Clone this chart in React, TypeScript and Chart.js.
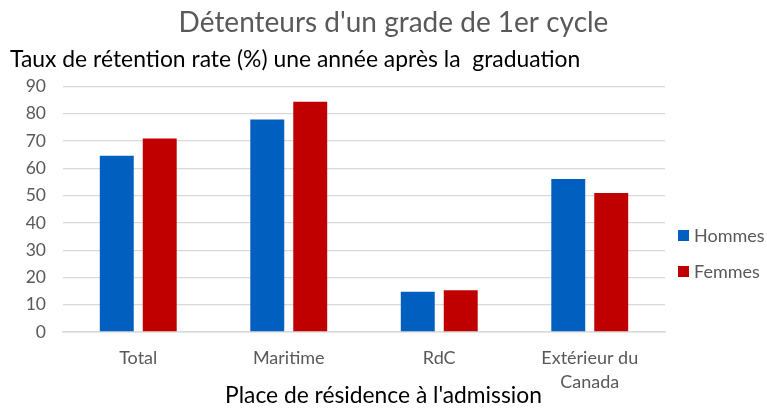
import React, { useEffect, useRef } from "react";
import { Chart, registerables } from "chart.js";

Chart.register(...registerables);

const categories: (string | string[])[] = ["Total", "Maritime", "RdC", ["Extérieur du", "Canada"]];
const hommes = [64.6, 77.9, 14.8, 56.1];
const femmes = [70.9, 84.4, 15.3, 51.0];
const seriesNames = ["Hommes", "Femmes"];
const seriesColors = ["#005FBF", "#C00000"];
const titleText = "Détenteurs d'un grade de 1er cycle";
const subtitleText = "Taux de rétention rate (%) une année après la  graduation";
const xTitleText = "Place de résidence à l'admission";

const FONT = "Lato, 'Open Sans', sans-serif";

const decorPlugin = {
  id: "decor",
  afterDraw(chart: any) {
    const { ctx, chartArea } = chart;
    ctx.save();
    // main title
    ctx.font = `28px ${FONT}`;
    ctx.fillStyle = "#595959";
    ctx.textAlign = "center";
    ctx.textBaseline = "middle";
    ctx.fillText(titleText, chart.width / 2 + 10, 23);
    // x axis title
    ctx.font = `22.8px ${FONT}`;
    ctx.fillStyle = "#000000";
    ctx.fillText(xTitleText, chart.width / 2, 396);
    // legend
    ctx.font = `18px ${FONT}`;
    ctx.textBaseline = "middle";
    ctx.textAlign = "left";
    const x = chartArea.right + 13;
    const ys = [235, 271];
    chart.data.datasets.forEach((ds: any, i: number) => {
      ctx.fillStyle = ds.backgroundColor;
      ctx.fillRect(x, ys[i] - 5, 11, 11);
      ctx.fillStyle = "#595959";
      ctx.fillText(ds.label, x + 16, ys[i] + 1);
    });
    ctx.restore();
  },
};

export default function App() {
  const ref = useRef<HTMLCanvasElement>(null);
  useEffect(() => {
    if (!ref.current) return;
    const chart = new Chart(ref.current, {
      type: "bar",
      data: {
        labels: categories,
        datasets: [
          { label: seriesNames[0], data: hommes, backgroundColor: seriesColors[0] },
          { label: seriesNames[1], data: femmes, backgroundColor: seriesColors[1] },
        ],
      },
      options: {
        responsive: false,
        animation: false,
        datasets: { bar: { categoryPercentage: 0.571, barPercentage: 0.79 } },
        layout: { padding: { left: 10, right: 102, top: 0, bottom: 2 } },
        plugins: {
          legend: { display: false },
          tooltip: { enabled: false },
          title: { display: false },
          subtitle: {
            display: true,
            text: subtitleText,
            align: "start",
            color: "#000000",
            font: { family: FONT, size: 22.9, weight: "normal" },
            padding: { top: 46, bottom: 13 },
          },
        },
        scales: {
          x: {
            grid: { display: false, drawTicks: false },
            border: { display: true, color: "#d9d9d9", width: 1.5 },
            ticks: {
              color: "#595959",
              font: { family: FONT, size: 18, lineHeight: 1.333 },
              padding: 14,
              maxRotation: 0,
            },
            title: { display: false },
          },
          y: {
            min: 0,
            max: 90,
            ticks: { stepSize: 10, color: "#595959", font: { family: FONT, size: 17.5 }, padding: 17 },
            grid: { color: "#d9d9d9", lineWidth: 1.3, drawTicks: false },
            border: { display: false },
            afterFit: (scale: any) => {
              scale.width = 53;
            },
          },
        },
      },
      plugins: [decorPlugin],
    });
    return () => chart.destroy();
  }, []);
  return (
    <div style={{ position: "absolute", left: 0, top: 0, width: 767, height: 410, background: "#fff" }}>
      <canvas ref={ref} width={767} height={410} />
    </div>
  );
}
